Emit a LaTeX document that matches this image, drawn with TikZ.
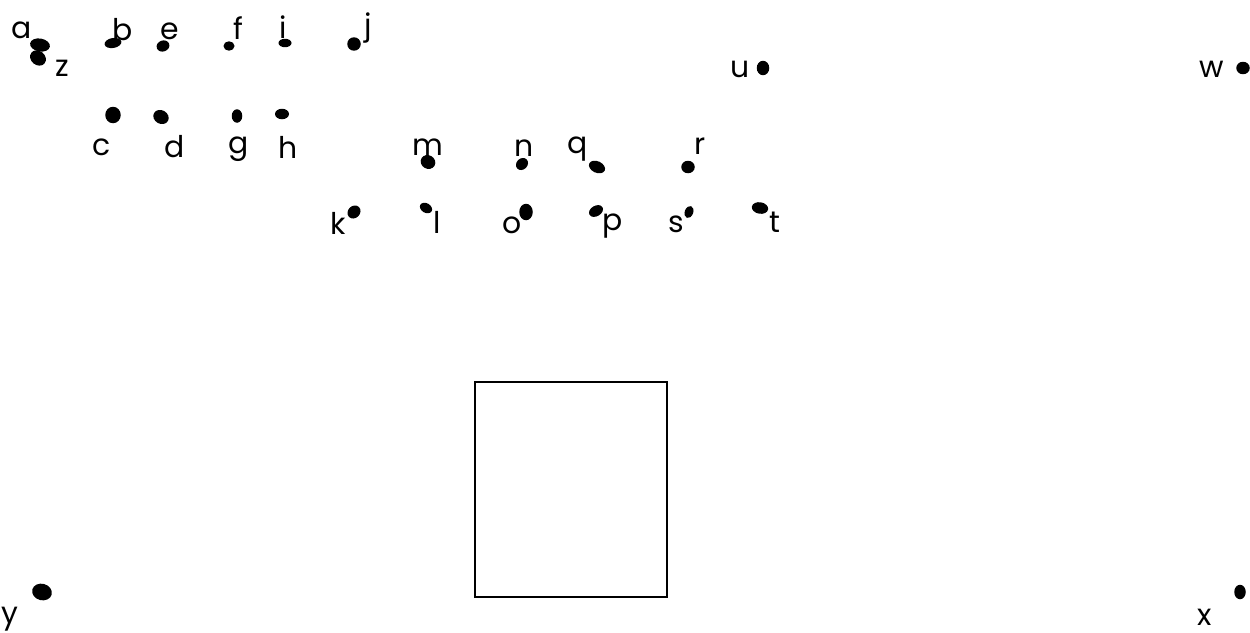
\documentclass[tikz,border=0pt]{standalone}
\usepackage{fontspec}
\setmainfont{Poppins}
\usetikzlibrary{shapes.geometric}

\begin{document}
\begin{tikzpicture}[x=0.02cm, y=-0.02cm,
  lbl/.style={inner sep=0pt, font=\fontsize{17}{17}\selectfont},
  dot/.style={ellipse, fill=black, inner sep=0pt}
]
\useasboundingbox (0,0) rectangle (1250,632);
% top row
\node[lbl] (a) at (22,30) {a};
\node[dot, minimum width=0.40cm, minimum height=0.26cm, rotate=-10] (pa) at (40,45) {};
\node[lbl] (z) at (62,68) {z};
\node[dot, minimum width=0.34cm, minimum height=0.28cm, rotate=-40] (pz) at (38,58) {};
\node[lbl] (b) at (123,30) {b};
\node[dot, minimum width=0.34cm, minimum height=0.20cm, rotate=10] (pb) at (113,43) {};
\node[lbl] (e) at (170,31) {e};
\node[dot, minimum width=0.26cm, minimum height=0.22cm, rotate=20] (pe) at (163,46) {};
\node[lbl] (f) at (238,28) {f};
\node[dot, minimum width=0.22cm, minimum height=0.19cm] (pf) at (229,46) {};
\node[lbl] (i) at (283,27) {i};
\node[dot, minimum width=0.26cm, minimum height=0.17cm] (pi) at (285,43) {};
\node[lbl] (j) at (368,28) {j};
\node[dot, minimum width=0.27cm, minimum height=0.27cm] (pj) at (354,44) {};
% second row
\node[lbl] (c) at (102,147) {c};
\node[dot, minimum width=0.31cm, minimum height=0.33cm] (pc) at (113,115) {};
\node[lbl] (d) at (175,147) {d};
\node[dot, minimum width=0.32cm, minimum height=0.27cm, rotate=-30] (pd) at (161,117) {};
\node[lbl] (g) at (239,149) {g};
\node[dot, minimum width=0.21cm, minimum height=0.27cm] (pg) at (237,116) {};
\node[lbl] (h) at (288,147) {h};
\node[dot, minimum width=0.28cm, minimum height=0.21cm] (ph) at (282,114) {};
\node[lbl] (m) at (428,147) {m};
\node[dot, minimum width=0.30cm, minimum height=0.27cm, rotate=-30] (pm) at (428,162) {};
\node[lbl] (n) at (524,148) {n};
\node[dot, minimum width=0.26cm, minimum height=0.22cm, rotate=45] (pn) at (522,164) {};
\node[lbl] (q) at (578,149) {q};
\node[dot, minimum width=0.34cm, minimum height=0.23cm, rotate=-25] (pq) at (597,167) {};
\node[lbl] (r) at (700,146) {r};
\node[dot, minimum width=0.27cm, minimum height=0.25cm] (pr) at (688,167) {};
% third row
\node[lbl] (k) at (338,223) {k};
\node[dot, minimum width=0.28cm, minimum height=0.24cm, rotate=45] (pk) at (354,212) {};
\node[lbl] (l) at (437,222) {l};
\node[dot, minimum width=0.26cm, minimum height=0.19cm, rotate=-30] (pl) at (426,208) {};
\node[lbl] (o) at (512,225) {o};
\node[dot, minimum width=0.27cm, minimum height=0.33cm] (po) at (526,212) {};
\node[lbl] (p) at (613,226) {p};
\node[dot, minimum width=0.30cm, minimum height=0.21cm, rotate=30] (pp) at (596,211) {};
\node[lbl] (s) at (676,224) {s};
\node[dot, minimum width=0.17cm, minimum height=0.25cm, rotate=-20] (ps) at (689,212) {};
\node[lbl] (t) at (775,222) {t};
\node[dot, minimum width=0.33cm, minimum height=0.23cm, rotate=-10] (pt) at (760,208) {};
% far points
\node[lbl] (u) at (740,69) {u};
\node[dot, minimum width=0.25cm, minimum height=0.29cm] (pu) at (763,68) {};
\node[lbl] (w) at (1212,69) {w};
\node[dot, minimum width=0.27cm, minimum height=0.25cm] (pw) at (1243,68) {};
\node[lbl] (y) at (10,619) {y};
\node[dot, minimum width=0.40cm, minimum height=0.33cm, rotate=-15] (py) at (42,592) {};
\node[lbl] (x) at (1205,617) {x};
\node[dot, minimum width=0.23cm, minimum height=0.29cm] (px) at (1240,592) {};
% box
\node[draw, line width=1pt, inner sep=0pt, minimum width=3.84cm, minimum height=4.30cm] (frame) at (571,489.5) {};
\end{tikzpicture}
\end{document}
